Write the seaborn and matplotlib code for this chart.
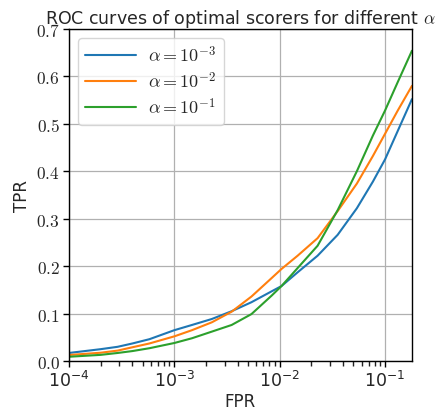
import numpy as np
import pandas as pd
import matplotlib
matplotlib.use("Agg")
import matplotlib.pyplot as plt
import matplotlib.ticker as mticker
import seaborn as sns

fpr = [1e-4, 2e-4, 2.9e-4, 4e-4, 5.8e-4, 1e-3, 1.47e-3, 2.27e-3, 3.5e-3, 5.4e-3,
       8.4e-3, 1.04e-2, 1.48e-2, 2.29e-2, 3.55e-2, 5.4e-2, 7.66e-2, 0.1, 0.132, 0.18]
tpr_a3 = [0.017, 0.025, 0.030, 0.037, 0.046, 0.065, 0.076, 0.0886, 0.105, 0.124,
          0.147, 0.158, 0.187, 0.222, 0.266, 0.322, 0.378, 0.425, 0.485, 0.552]
tpr_a2 = [0.0127, 0.0175, 0.022, 0.029, 0.037, 0.052, 0.065, 0.0816, 0.104, 0.136,
          0.175, 0.194, 0.222, 0.259, 0.316, 0.374, 0.432, 0.479, 0.528, 0.580]
tpr_a1 = [0.009, 0.013, 0.017, 0.021, 0.027, 0.038, 0.048, 0.062, 0.076, 0.099,
          0.138, 0.158, 0.196, 0.243, 0.318, 0.400, 0.475, 0.528, 0.588, 0.654]
labels = [r"$\alpha = 10^{-3}$", r"$\alpha = 10^{-2}$", r"$\alpha = 10^{-1}$"]

rows = []
for lab, t in zip(labels, [tpr_a3, tpr_a2, tpr_a1]):
    for f, v in zip(fpr, t):
        rows.append({"FPR": f, "TPR": v, "alpha": lab})
df = pd.DataFrame(rows)

sns.set_style("ticks")
plt.rcParams["mathtext.fontset"] = "cm"
plt.rcParams["font.family"] = ["DejaVu Sans"]
plt.rcParams["xtick.minor.size"] = 3.5
plt.rcParams["xtick.minor.width"] = 1.0
plt.rcParams["xtick.minor.visible"] = True

fig = plt.figure(figsize=(4.42, 4.10), dpi=100)
ax = fig.add_axes([0.156, 0.117, 0.776, 0.810])
pal = ["#1f77b4", "#ff7f0e", "#2ca02c"]
sns.lineplot(data=df, x="FPR", y="TPR", hue="alpha", palette=pal, ax=ax,
             linewidth=1.5, legend=True)
ax.set_xscale("log")
ax.set_xlim(1e-4, 0.18)
ax.set_ylim(0, 0.7)
ax.set_yticks(np.arange(0, 0.71, 0.1))
ax.yaxis.set_major_formatter(mticker.FuncFormatter(lambda v, p: r"$%.1f$" % v))
ax.yaxis.set_minor_locator(mticker.NullLocator())
minor_pos = [k * 10.0 ** e for e in range(-4, 0) for k in range(2, 10)]
ax.xaxis.set_major_locator(mticker.FixedLocator([1e-4, 1e-3, 1e-2, 1e-1]))
ax.xaxis.set_minor_locator(mticker.FixedLocator(minor_pos))
ax.xaxis.set_minor_formatter(mticker.NullFormatter())
ax.xaxis.set_major_formatter(mticker.LogFormatterMathtext())
ax.tick_params(axis="both", which="major", labelsize=12.5, direction="out", length=4.5,
               width=1, color="black", pad=2)
ax.tick_params(axis="x", which="minor", direction="out", length=3.5, width=1.0,
               color="#222222", bottom=True, top=False)
ax.set_xlim(1e-4, 0.18)
ax.grid(True, which="major", color="#b0b0b0", linewidth=0.9)
for s in ax.spines.values():
    s.set_color("black")
    s.set_linewidth(1.0)
ax.set_xlabel("FPR", fontsize=12, labelpad=1)
ax.set_ylabel("TPR", fontsize=12, labelpad=4)
ax.set_title(r"ROC curves of optimal scorers for different $\alpha$", fontsize=12.5, pad=2)
handles, labs = ax.get_legend_handles_labels()
ax.legend(handles, labs, loc="upper left", fontsize=13, frameon=True, framealpha=0.8,
          edgecolor="#cccccc", fancybox=True, handlelength=2.8, handletextpad=0.7,
          labelspacing=0.3, borderpad=0.4, borderaxespad=0.5)
fig.savefig("out.png", dpi=100)
